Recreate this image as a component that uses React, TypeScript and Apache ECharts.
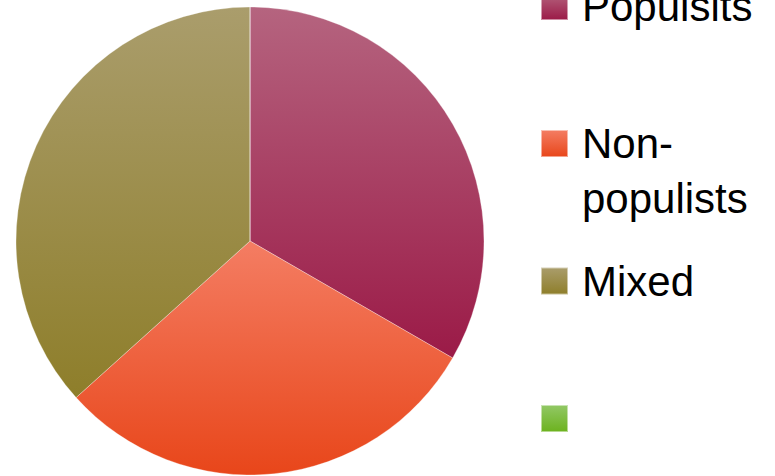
import React, { useEffect, useRef } from "react";
import * as echarts from "echarts";

const categories = ["Populsits", "Non-populists", "Mixed", " "];
const values = [10, 9, 11, 0];
const gradientTops = ["#b5647f", "#f47d63", "#aa9d6c", "#92c866"];
const gradientBottoms = ["#9b1a47", "#e8461a", "#8e7e2a", "#6cb21e"];
const legendCenters = [6.5, 143.5, 281, 418.5];

export default function App() {
  const ref = useRef<HTMLDivElement>(null);
  useEffect(() => {
    document.body.style.margin = "0";
    const chart = echarts.init(ref.current!, null, { renderer: "svg" });
    const lineH = 55;
    const padTop = 8;
    const legends = categories.map((name, i) => {
      const multi = name === "Non-populists";
      const h = (multi ? lineH * 3 : lineH) + padTop;
      return {
        data: [name],
        orient: "vertical",
        left: 540,
        top: legendCenters[i] - h / 2,
        padding: 0,
        itemWidth: 27,
        itemHeight: 27,
        icon: "rect",
        selectedMode: false,
        formatter: (n: string) => (n === "Non-populists" ? "\nNon-\npopulists" : n),
        textStyle: {
          fontFamily: "Liberation Sans",
          fontSize: 42,
          lineHeight: lineH,
          color: "#000",
          padding: [padTop, 0, 0, 9],
        },
      };
    });
    chart.setOption({
      animation: false,
      legend: legends,
      series: [
        {
          type: "pie",
          center: [250, 241],
          radius: 234,
          startAngle: 90,
          clockwise: true,
          label: { show: false },
          labelLine: { show: false },
          emphasis: { disabled: true },
          itemStyle: { borderColor: "rgba(255,255,255,0.5)", borderWidth: 0.6 },
          data: categories.map((name, i) => ({
            name,
            value: values[i],
            itemStyle: {
              color: new echarts.graphic.LinearGradient(0, 0, 0, 1, [
                { offset: 0, color: gradientTops[i] },
                { offset: 1, color: gradientBottoms[i] },
              ]),
            },
          })),
        },
      ],
    });
    return () => chart.dispose();
  }, []);
  return <div ref={ref} style={{ width: 775, height: 476 }} />;
}
